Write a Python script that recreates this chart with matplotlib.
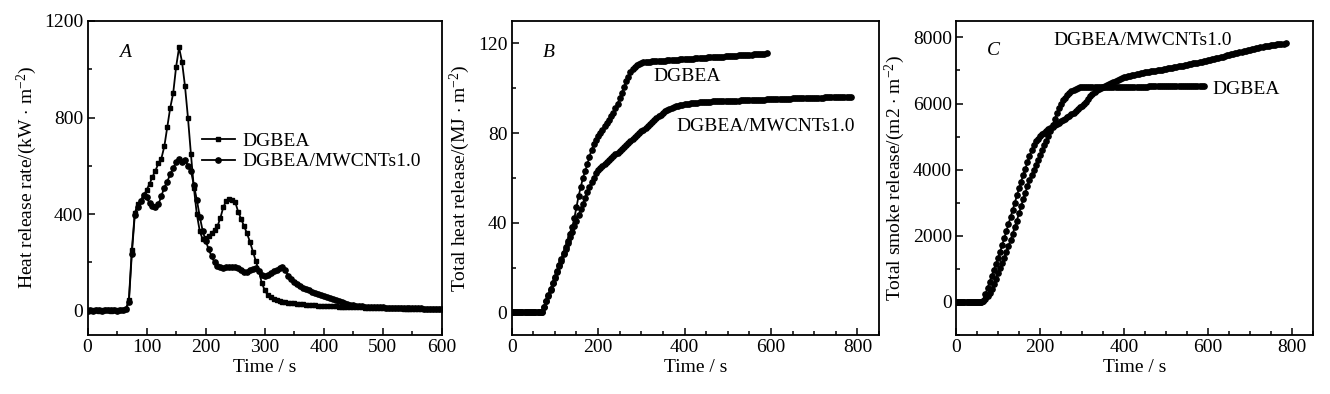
import numpy as np
import matplotlib.pyplot as plt
from matplotlib.ticker import MultipleLocator

plt.rcParams['font.family'] = ['Liberation Serif', 'DejaVu Serif']
plt.rcParams['mathtext.fontset'] = 'custom'
plt.rcParams['mathtext.rm'] = 'Liberation Serif'
plt.rcParams['mathtext.it'] = 'Liberation Serif:italic'
plt.rcParams['font.size'] = 14

# ---- A: heat release rate, sampled every 5 s ----
hrr_time = np.arange(0, 605, 5)
hrr_dgbea = [2, 1, 2, 2, 1, 2, 3, 2, 1, 2, 2, 3, 2,
             8, 45, 250, 405, 440, 455, 475, 500,
             525, 555, 580, 610, 630, 680, 760, 840, 900, 1010,
             1090, 1030, 930, 800, 650, 510, 400, 330, 295, 300,
             310, 320, 335, 350, 385, 430, 455, 462, 460, 450,
             410, 380, 350, 320, 285, 245, 205, 165, 115, 85,
             65, 55, 48, 44, 41, 38, 35, 33, 31, 30,
             29, 28, 26, 25, 24, 23, 22, 21, 20, 20,
             19, 19, 18, 18, 17, 17, 16, 16, 15, 15,
             15, 14, 14, 13, 13, 13, 12, 12, 12, 11,
             11, 11, 10, 10, 10, 10, 9, 9, 9, 9,
             9, 8, 8, 8, 8, 8, 7, 7, 7, 7]
hrr_mwcnt = [1, 2, 1, 2, 2, 1, 2, 2, 3, 2, 1, 2, 2,
             6, 35, 235, 395, 430, 455, 480, 470,
             445, 435, 430, 440, 475, 510, 535, 565, 590, 615,
             630, 615, 625, 600, 580, 520, 460, 390, 330, 290,
             255, 225, 200, 185, 180, 178, 180, 183, 183, 180,
             176, 168, 160, 162, 168, 172, 175, 165, 150, 145,
             150, 157, 163, 170, 178, 182, 168, 145, 130, 120,
             111, 103, 96, 90, 84, 79, 74, 69, 65, 61,
             57, 53, 49, 45, 40, 36, 32, 28, 25, 22,
             20, 19, 18, 17, 16, 16, 15, 15, 14, 14,
             13, 13, 13, 12, 12, 12, 11, 11, 11, 10,
             10, 10, 10, 9, 9, 9, 9, 8, 8, 8]

# ---- B: total heat release ----
thr_time_dgbea = np.arange(0, 595, 5)
thr_dgbea = [0] * 14 + [
    0.3, 2.5, 5, 8, 10.5, 13, 16, 18.5, 21, 24,
    26.5, 29, 32, 35, 38, 42, 47, 52, 56, 60,
    63, 66, 69.5, 72.5, 75, 77, 78.5, 80, 81.5, 83,
    84.5, 86, 87.5, 89, 91, 93, 95.5, 98, 100.5, 103,
    105, 107, 108.5, 109.5, 110.3, 110.8, 111.2,
    111.5, 111.6, 111.7, 111.8, 111.9, 112.0, 112.0, 112.1, 112.2, 112.3,
    112.3, 112.4, 112.5, 112.5, 112.6, 112.7, 112.7, 112.8, 112.9, 112.9,
    113.0, 113.1, 113.1, 113.2, 113.3, 113.3, 113.4, 113.5, 113.5, 113.6,
    113.7, 113.7, 113.8, 113.9, 113.9, 114.0, 114.1, 114.1, 114.2, 114.3,
    114.3, 114.4, 114.5, 114.5, 114.6, 114.7, 114.7, 114.8, 114.9, 114.9,
    115.0, 115.1, 115.1, 115.2, 115.3, 115.3, 115.4, 115.5]
thr_time_mwcnt = np.arange(0, 790, 5)
thr_mwcnt = [0] * 14 + [
    0.3, 2.5, 5, 7.5, 10, 13, 15.5, 18, 20.5, 23,
    26, 28.5, 31, 33.5, 36, 38.5, 41, 43.5, 46, 48.5,
    51, 53.5, 56, 58, 60, 62, 63.7,
    64.5, 65.4, 66.2, 67.1, 67.9, 68.8, 69.6, 70.5, 71.3, 72.2,
    73, 73.9, 74.7, 75.6, 76.4, 77.3, 78.1, 79, 79.8, 80.7,
    81.5, 82.4, 83.2, 84.1, 84.9, 85.8, 86.6, 87.4, 88.2, 89,
    89.7, 90.3, 90.8, 91.2, 91.6, 91.9, 92.2, 92.4, 92.6, 92.8,
    93, 93.1, 93.3, 93.4, 93.5, 93.6, 93.7, 93.8, 93.8, 93.9,
    94.0, 94.0, 94.1, 94.1, 94.2, 94.2, 94.2, 94.3, 94.3, 94.4,
    94.4, 94.4, 94.5, 94.5, 94.5, 94.6, 94.6, 94.6, 94.7, 94.7,
    94.7, 94.8, 94.8, 94.8, 94.9, 94.9, 94.9, 95.0, 95.0, 95.0,
    95.1, 95.1, 95.1, 95.2, 95.2, 95.2, 95.3, 95.3, 95.3, 95.4,
    95.4, 95.4, 95.5, 95.5, 95.5, 95.6, 95.6, 95.6, 95.7, 95.7,
    95.7, 95.8, 95.8, 95.8, 95.9, 95.9, 95.9, 96.0, 96.0, 96.0,
    96.0, 96.1, 96.1, 96.1, 96.2, 96.2, 96.2]

# ---- C: total smoke release ----
tsr_time_dgbea = np.arange(0, 595, 5)
tsr_dgbea = [0] * 13 + [
    20, 80, 170, 260, 400, 550, 700, 860, 1010, 1170,
    1330, 1500, 1680, 1870, 2060, 2260, 2460, 2680, 2890, 3100,
    3300, 3500, 3680, 3840, 3990, 4140, 4290, 4430, 4580, 4730,
    4880, 5020, 5180, 5350, 5520, 5700, 5860, 5990, 6100, 6180,
    6260, 6330, 6380, 6420, 6450, 6470, 6485, 6495,
    6500, 6500, 6502, 6502, 6503, 6504, 6505, 6505, 6506, 6506,
    6507, 6507, 6508, 6508, 6509, 6509, 6510, 6510, 6510, 6511,
    6511, 6511, 6512, 6512, 6512, 6513, 6513, 6513, 6514, 6514,
    6514, 6515, 6515, 6515, 6515, 6516, 6516, 6516, 6516, 6517,
    6517, 6517, 6517, 6518, 6518, 6518, 6518, 6518, 6519, 6519,
    6519, 6519, 6519, 6520, 6520, 6520, 6520, 6520]
tsr_time_mwcnt = np.arange(0, 790, 5)
tsr_mwcnt = [0] * 13 + [
    40, 230, 420, 600, 780, 960, 1140, 1320,
    1510, 1720, 1930, 2150, 2360, 2570, 2780, 3000, 3220, 3430,
    3640, 3840, 4030, 4220, 4410, 4590, 4740, 4860, 4940, 5010,
    5070, 5120, 5170, 5220, 5260, 5300, 5340, 5380, 5420, 5460,
    5500, 5540, 5580, 5620, 5670, 5720, 5770, 5820, 5880, 5940,
    6000, 6060, 6140, 6220, 6290, 6350, 6400, 6440, 6480, 6510,
    6540, 6570, 6600, 6630, 6660, 6690, 6720, 6745, 6770, 6790,
    6805, 6820, 6835, 6850, 6865, 6880, 6895, 6910, 6925, 6940,
    6951, 6962, 6973, 6984, 6995, 7006, 7017, 7028, 7039, 7050,
    7062, 7074, 7086, 7098, 7110, 7122, 7134, 7146, 7158, 7170,
    7184, 7198, 7212, 7226, 7240, 7254, 7268, 7282, 7296, 7310,
    7326, 7342, 7358, 7374, 7390, 7406, 7422, 7438, 7454, 7470,
    7486, 7502, 7518, 7534, 7550, 7566, 7582, 7598, 7614, 7630,
    7645, 7660, 7675, 7690, 7702, 7714, 7726, 7738, 7750, 7760,
    7770, 7780, 7790, 7800, 7808, 7814, 7820]

fig = plt.figure(figsize=(13.3, 3.94), dpi=100)
axA = fig.add_axes([0.0658, 0.150, 0.2665, 0.797])
axB = fig.add_axes([0.3847, 0.150, 0.2762, 0.797])
axC = fig.add_axes([0.7188, 0.150, 0.2684, 0.797])


def style(ax, xmaj, xmin, ymaj, ymin):
    ax.xaxis.set_major_locator(MultipleLocator(xmaj))
    ax.xaxis.set_minor_locator(MultipleLocator(xmin))
    ax.yaxis.set_major_locator(MultipleLocator(ymaj))
    ax.yaxis.set_minor_locator(MultipleLocator(ymin))
    ax.tick_params(which='both', direction='in', top=False, right=False,
                   width=1.1, pad=3, labelsize=14)
    ax.tick_params(which='major', length=5)
    ax.tick_params(which='minor', length=3)
    for s in ax.spines.values():
        s.set_linewidth(1.3)
    ax.set_xlabel('Time / s', labelpad=2)


lineA1, = axA.plot(hrr_time, hrr_dgbea, color='k', lw=1.3, marker='s', ms=3.3)
lineA2, = axA.plot(hrr_time, hrr_mwcnt, color='k', lw=1.3, marker='o', ms=3.8)
axA.set_xlim(0, 600)
axA.set_ylim(-100, 1200)
style(axA, 100, 50, 400, 200)
axA.set_ylabel(r'Heat release rate/(kW $\cdot$ m$^{-2}$)', labelpad=4)
axA.text(0.105, 0.90, 'A', style='italic', transform=axA.transAxes,
         ha='center', va='center')
axA.legend([lineA1, lineA2], ['DGBEA', 'DGBEA/MWCNTs1.0'], loc='upper left',
           bbox_to_anchor=(0.30, 0.67), frameon=False, numpoints=1,
           handlelength=1.7, handletextpad=0.4, labelspacing=0.15,
           borderaxespad=0, fontsize=14)

axB.plot(thr_time_dgbea, thr_dgbea, color='k', lw=1.3, marker='o', ms=3.8)
axB.plot(thr_time_mwcnt, thr_mwcnt, color='k', lw=1.3, marker='o', ms=3.8)
axB.set_xlim(0, 850)
axB.set_ylim(-10, 130)
style(axB, 200, 50, 40, 20)
axB.set_ylabel(r'Total heat release/(MJ $\cdot$ m$^{-2}$)', labelpad=4)
axB.text(0.10, 0.90, 'B', style='italic', transform=axB.transAxes,
         ha='center', va='center')
axB.text(327, 105, 'DGBEA', ha='left', va='center')
axB.text(381, 83, 'DGBEA/MWCNTs1.0', ha='left', va='center')

axC.plot(tsr_time_dgbea, tsr_dgbea, color='k', lw=1.3, marker='o', ms=3.8)
axC.plot(tsr_time_mwcnt, tsr_mwcnt, color='k', lw=1.3, marker='o', ms=3.8)
axC.set_xlim(0, 850)
axC.set_ylim(-1000, 8500)
style(axC, 200, 50, 2000, 1000)
axC.set_ylabel(r'Total smoke release/(m2 $\cdot$ m$^{-2}$)', labelpad=4)
axC.text(0.105, 0.905, 'C', style='italic', transform=axC.transAxes,
         ha='center', va='center')
axC.text(232, 7920, 'DGBEA/MWCNTs1.0', ha='left', va='center')
axC.text(610, 6415, 'DGBEA', ha='left', va='center')

fig.savefig('out.png', dpi=100)
